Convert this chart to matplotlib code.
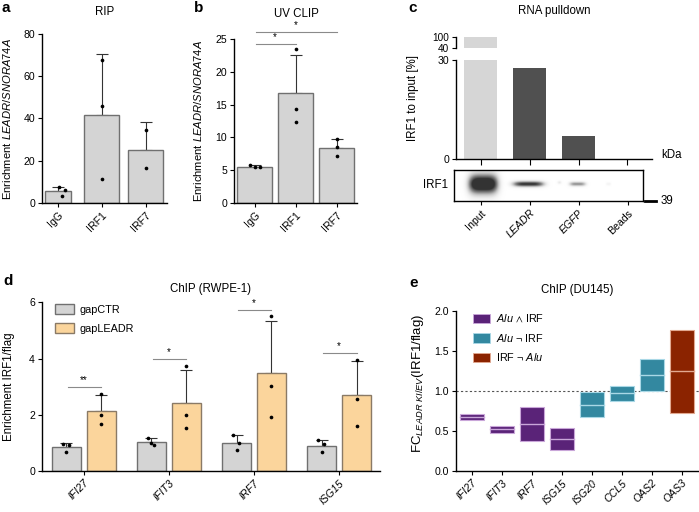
import numpy as np
import matplotlib
matplotlib.use('Agg')
import matplotlib.pyplot as plt
from matplotlib.patches import Patch
from matplotlib.lines import Line2D

plt.rcParams['font.family'] = ['Liberation Sans', 'DejaVu Sans']
plt.rcParams['mathtext.fontset'] = 'custom'
plt.rcParams['mathtext.rm'] = 'Liberation Sans'
plt.rcParams['mathtext.it'] = 'Liberation Sans:italic'
plt.rcParams['mathtext.bf'] = 'Liberation Sans:bold'
plt.rcParams['mathtext.fallback'] = 'stixsans'
plt.rcParams['font.size'] = 8.3
plt.rcParams['xtick.labelsize'] = 7.6
plt.rcParams['ytick.labelsize'] = 7.6
plt.rcParams['axes.linewidth'] = 1.0
plt.rcParams['xtick.major.size'] = 3
plt.rcParams['ytick.major.size'] = 3
plt.rcParams['xtick.major.pad'] = 2
plt.rcParams['ytick.major.pad'] = 2

# ---- data ----
# a: RIP
rip_groups = ['IgG', 'IRF1', 'IRF7']
rip_mean = [5.5, 41.7, 25.2]
rip_sd = [2.2, 28.7, 13.1]
rip_points = [[7.4, 6.1, 3.3], [67.8, 46.1, 11.2], [34.6, 16.4]]

# b: UV CLIP
clip_groups = ['IgG', 'IRF1', 'IRF7']
clip_mean = [5.5, 16.7, 8.4]
clip_sd = [0.3, 5.9, 1.4]
clip_points = [[5.8, 5.5, 5.5], [23.4, 14.3, 12.4], [9.8, 8.5, 7.1]]
clip_sig_pairs = [(0, 1), (0, 2)]
clip_sig_level = [24.3, 26.1]
clip_sig_text = ['*', '*']

# c: RNA pulldown
pull_lanes = ['Input', 'LEADR', 'EGFP', 'Beads']
pull_values = [100, 27.8, 7.0, 0]
blot_band_strength = [1.0, 0.75, 0.45, 0.08]

# d: ChIP (RWPE-1)
chip_genes = ['IFI27', 'IFIT3', 'IRF7', 'ISG15']
ctr_mean = [0.84, 1.02, 1.0, 0.9]
ctr_sd = [0.16, 0.14, 0.27, 0.22]
ctr_points = [[0.97, 0.92, 0.68], [1.16, 0.93, 0.98], [1.27, 1.0, 0.75], [1.12, 0.97, 0.66]]
leadr_mean = [2.15, 2.41, 3.49, 2.7]
leadr_sd = [0.55, 1.17, 1.84, 1.21]
leadr_points = [[2.75, 1.98, 1.67], [3.72, 1.98, 1.53], [5.5, 3.03, 1.93], [3.95, 2.56, 1.59]]
chip_sig_level = [3.0, 3.98, 5.72, 4.19]
chip_sig_text = ['**', '*', '*', '*']

# e: ChIP (DU145)
du_genes = ['IFI27', 'IFIT3', 'IRF7', 'ISG15', 'ISG20', 'CCL5', 'OAS2', 'OAS3']
du_low = [0.64, 0.47, 0.37, 0.26, 0.67, 0.875, 1.00, 0.73]
du_med = [0.675, 0.52, 0.59, 0.40, 0.83, 0.975, 1.20, 1.25]
du_high = [0.71, 0.56, 0.80, 0.54, 0.99, 1.06, 1.40, 1.76]
du_class = [0, 0, 0, 0, 1, 1, 1, 2]
du_class_labels = [r'$\mathit{Alu}$ $\wedge$ IRF', r'$\mathit{Alu}$ ¬ IRF', r'IRF ¬ $\mathit{Alu}$']

# ---- style ----
W, H = 699, 512
BAR_GRAY = '#d4d4d4'
EDGE_GRAY = '#707070'
ORANGE = '#fbd59c'
DARK = '#505050'
ERR = '#333333'
CLASS_COLORS = ['#5a2378', '#3388a0', '#8b2300']
CLASS_EDGES = ['#c9a6d9', '#a9d8e6', '#e2a890']


def axbox(l, t, r, b):
    return [l / W, 1 - b / H, (r - l) / W, (b - t) / H]


def clean(ax):
    ax.spines['top'].set_visible(False)
    ax.spines['right'].set_visible(False)


def rot_labels(ax, labels, italic=False):
    ax.set_xticklabels(labels, rotation=45, ha='right', rotation_mode='anchor',
                       fontstyle='italic' if italic else 'normal')


fig = plt.figure(figsize=(W / 100, H / 100), dpi=100)

# ---- a ----
ax = fig.add_axes(axbox(42, 34, 167, 203))
clean(ax)
xa = np.arange(3)
wa = [0.6, 0.8, 0.8]
ax.bar(xa, rip_mean, width=wa, color=BAR_GRAY, edgecolor=EDGE_GRAY, lw=1, zorder=2)
ax.errorbar(xa, rip_mean, yerr=[np.zeros(3), rip_sd], fmt='none', ecolor=ERR,
            elinewidth=0.8, capsize=4.5, capthick=0.8, zorder=1)
offs_a = [[0.03, 0.16, 0.1], [0, 0, 0], [0, 0, 0]]
for i, pts in enumerate(rip_points):
    ax.scatter(i + np.array(offs_a[i][:len(pts)]), pts, s=7, color='black', zorder=3, lw=0)
ax.set_xlim(-0.36, 2.48)
ax.set_ylim(0, 80)
ax.set_yticks([0, 20, 40, 60, 80])
ax.set_xticks(xa)
rot_labels(ax, rip_groups)
ax.set_ylabel(r'Enrichment $\mathit{LEADR/SNORA74A}$', fontsize=8.1)
ax.yaxis.set_label_coords(-0.23, 0.5)

# ---- b ----
ax = fig.add_axes(axbox(234, 39, 357, 203))
clean(ax)
xb = np.arange(3)
ax.bar(xb, clip_mean, width=0.84, color=BAR_GRAY, edgecolor=EDGE_GRAY, lw=1, zorder=2)
ax.errorbar(xb, clip_mean, yerr=[np.zeros(3), clip_sd], fmt='none', ecolor=ERR,
            elinewidth=0.8, capsize=4.5, capthick=0.8, zorder=1)
offs_b = [[-0.11, 0, 0.13], [0, 0, 0], [0, 0, 0]]
for i, pts in enumerate(clip_points):
    ax.scatter(i + np.array(offs_b[i]), pts, s=7, color='black', zorder=3, lw=0)
for (g1, g2), lev, txt in zip(clip_sig_pairs, clip_sig_level, clip_sig_text):
    ax.plot([g1 + 0.04, g2], [lev, lev], color='#8a8a8a', lw=0.8, clip_on=False)
    ax.text((g1 + g2) / 2, lev + 0.2, txt, ha='center', va='bottom', fontsize=7)
ax.set_xlim(-0.5, 2.5)
ax.set_ylim(0, 25)
ax.set_yticks([0, 5, 10, 15, 20, 25])
ax.set_xticks(xb)
rot_labels(ax, clip_groups)
ax.set_ylabel(r'Enrichment $\mathit{LEADR/SNORA74A}$', fontsize=8.1)
ax.yaxis.set_label_coords(-0.24, 0.5)

# ---- c ----
xc = np.arange(4)
pull_colors = ['#d6d6d6', DARK, DARK, DARK]
ax_lo = fig.add_axes(axbox(456, 60.3, 652, 159))
ax_hi = fig.add_axes(axbox(456, 37.3, 652, 48.3))
for a_ in (ax_lo, ax_hi):
    a_.bar(xc, pull_values, width=0.67, color=pull_colors, lw=0)
    a_.set_xlim(-0.5, 3.5)
    a_.spines['top'].set_visible(False)
    a_.spines['right'].set_visible(False)
ax_lo.set_ylim(0, 30)
ax_lo.set_yticks([0, 30])
ax_lo.set_xticks(xc)
ax_lo.set_xticklabels([])
ax_lo.tick_params(axis='x', length=4)
ax_lo.set_ylabel('IRF1 to input [%]')
ax_lo.yaxis.set_label_coords(-0.188, 0.62)
ax_hi.set_ylim(40, 100)
ax_hi.set_yticks([40, 100])
ax_hi.spines['bottom'].set_visible(False)
ax_hi.set_xticks([])
ax_hi.tick_params(axis='y', labelsize=7.2, pad=2)

# western blot strip
ax_bl = fig.add_axes(axbox(454, 170, 643, 201))
xl = (-0.541, 3.316)
gx = np.linspace(xl[0], xl[1], 400)
gy = np.linspace(0, 1, 60)
XX, YY = np.meshgrid(gx, gy)
blot = np.zeros_like(XX)
band_x = [0.05, 0.97, 1.97, 2.6]
band_sx = [0.3, 0.32, 0.17, 0.05]
band_sy = [0.32, 0.09, 0.07, 0.05]
for bx, sx, sy, st in zip(band_x, band_sx, band_sy, blot_band_strength):
    blot += st * np.exp(-(((XX - bx) / sx) ** 4 + ((YY - 0.55) / sy) ** 2))
blot += 0.15 * np.exp(-(((XX - 1.6) / 0.04) ** 2 + ((YY - 0.6) / 0.05) ** 2))
blot = np.clip(blot * 1.4, 0, 1)
ax_bl.imshow(blot, extent=[xl[0], xl[1], 0, 1], origin='lower', cmap='Greys',
             vmin=0, vmax=1.2, aspect='auto', interpolation='bilinear')
ax_bl.set_xlim(*xl)
ax_bl.set_ylim(0, 1)
ax_bl.set_yticks([])
ax_bl.set_xticks(xc)
rot_labels(ax_bl, pull_lanes)
for lab in ax_bl.get_xticklabels():
    if lab.get_text() in ('LEADR', 'EGFP'):
        lab.set_fontstyle('italic')
ax_bl.tick_params(axis='x', length=3)
fig.text(448 / W, 1 - 185 / H, 'IRF1', ha='right', va='center')
fig.text(661 / W, 1 - 155 / H, 'kDa', ha='left', va='center')
fig.text(661 / W, 1 - 201 / H, '39', ha='left', va='center')
fig.add_artist(Line2D([645 / W, 656 / W], [1 - 201 / H, 1 - 201 / H], color='black', lw=2))

# ---- d ----
ax = fig.add_axes(axbox(42, 302.3, 380, 471))
clean(ax)
xd = np.arange(4)
off = 0.205
bw = 0.34
ax.bar(xd - off, ctr_mean, width=bw, color=BAR_GRAY, edgecolor=EDGE_GRAY, lw=1, zorder=2, label='gapCTR')
ax.bar(xd + off, leadr_mean, width=bw, color=ORANGE, edgecolor='#8a7a66', lw=1, zorder=2, label='gapLEADR')
ax.errorbar(xd - off, ctr_mean, yerr=[np.zeros(4), ctr_sd], fmt='none', ecolor=ERR,
            elinewidth=0.8, capsize=4, capthick=0.8, zorder=1)
ax.errorbar(xd + off, leadr_mean, yerr=[np.zeros(4), leadr_sd], fmt='none', ecolor=ERR,
            elinewidth=0.8, capsize=4, capthick=0.8, zorder=1)
offs_d = [-0.04, 0.03, 0.0]
for i in range(4):
    ax.scatter(i - off + np.array(offs_d), ctr_points[i], s=7, color='black', zorder=3, lw=0)
    ax.scatter(np.full(3, i + off), leadr_points[i], s=7, color='black', zorder=3, lw=0)
    ax.plot([i - off + 0.02, i + off], [chip_sig_level[i]] * 2, color='#8a8a8a', lw=0.8)
    ax.text(i, chip_sig_level[i] + 0.06, chip_sig_text[i], ha='center', va='bottom', fontsize=7)
ax.set_xlim(-0.49, 3.48)
ax.set_ylim(0, 6)
ax.set_yticks([0, 2, 4, 6])
ax.set_xticks(xd)
rot_labels(ax, chip_genes, italic=True)
ax.set_ylabel('Enrichment IRF1/flag')
ax.yaxis.set_label_coords(-0.079, 0.5)
ax.legend(loc='upper left', bbox_to_anchor=(0.01, 1.045), frameon=False, fontsize=7.8,
          handlelength=1.75, handleheight=1.0, labelspacing=0.75, handletextpad=0.5)

# ---- e ----
ax = fig.add_axes(axbox(456, 311, 699, 471))
clean(ax)
xe = np.arange(len(du_genes))
for i in xe:
    c = du_class[i]
    ax.bar(i, du_high[i] - du_low[i], bottom=du_low[i], width=0.8,
           color=CLASS_COLORS[c], edgecolor=CLASS_EDGES[c], lw=0.8, zorder=2)
    ax.plot([i - 0.4, i + 0.4], [du_med[i]] * 2, color=CLASS_EDGES[c], lw=1.0, zorder=3)
ax.axhline(1.0, color='#555555', ls=(0, (2, 2)), lw=0.8, zorder=1)
ax.set_xlim(-0.53, 7.57)
ax.set_ylim(0, 2.0)
ax.set_yticks([0, 0.5, 1.0, 1.5, 2.0])
ax.set_yticklabels(['0.0', '0.5', '1.0', '1.5', '2.0'])
ax.set_xticks(xe)
rot_labels(ax, du_genes, italic=True)
ax.set_ylabel(r'FC$_{\mathit{LEADR\ KI/EV}}$(IRF1/flag)', fontsize=9.5)
ax.yaxis.set_label_coords(-0.125, 0.55)
handles = [Patch(facecolor=CLASS_COLORS[k], edgecolor=CLASS_EDGES[k], lw=0.6) for k in range(3)]
ax.legend(handles, du_class_labels, loc='upper left', bbox_to_anchor=(0.03, 1.05), frameon=False,
          fontsize=7.8, handlelength=1.55, handleheight=1.0, labelspacing=0.68, handletextpad=0.6)

# ---- titles and panel letters ----
titles = [('RIP', 104.5, 15), ('UV CLIP', 296, 17), ('RNA pulldown', 554, 14),
          ('ChIP (RWPE-1)', 211, 292), ('ChIP (DU145)', 577, 293)]
for t, x, y in titles:
    fig.text(x / W, 1 - y / H, t, ha='center', va='baseline', fontsize=8.3)
letters = [('a', 1, 12), ('b', 194, 12), ('c', 408, 12), ('d', 3, 285), ('e', 409, 287)]
for t, x, y in letters:
    fig.text(x / W, 1 - y / H, t, ha='left', va='baseline', fontsize=11, fontweight='bold')

fig.savefig('out.png', dpi=100)
